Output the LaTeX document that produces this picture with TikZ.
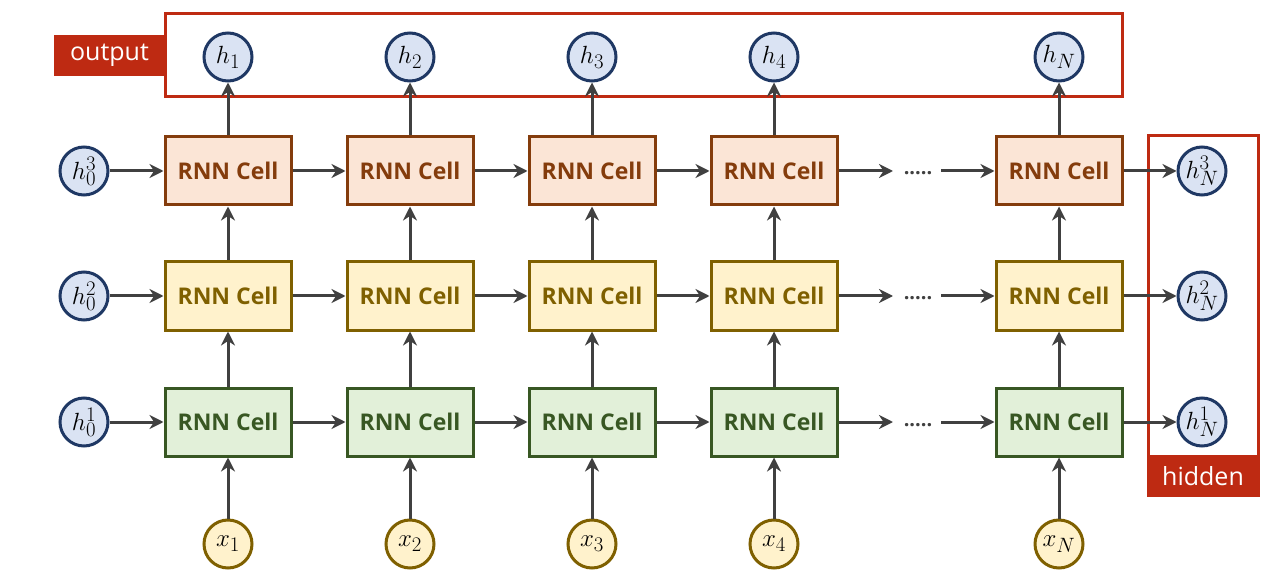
\documentclass[tikz,border=0pt]{standalone}
\usepackage{fontspec}
\newfontfamily\uifont{Open Sans}
\usetikzlibrary{arrows.meta}
\DeclareMathSizes{25}{25}{20}{16}
\definecolor{redc}{RGB}{190,42,18}
\definecolor{topfill}{HTML}{FBE5D6}\definecolor{topdraw}{HTML}{843C0C}
\definecolor{midfill}{HTML}{FFF2CC}\definecolor{middraw}{HTML}{7F6000}
\definecolor{botfill}{HTML}{E2F0D9}\definecolor{botdraw}{HTML}{385723}
\definecolor{hfill}{HTML}{DAE3F3}\definecolor{hdraw}{HTML}{1F3864}
\definecolor{arr}{HTML}{404040}
\begin{document}
\begin{tikzpicture}[x=1pt,y=-1pt,
  cell/.style={rectangle,minimum width=126pt,minimum height=68pt,line width=3pt,inner sep=0pt,
    font=\uifont\bfseries\fontsize{23}{26}\selectfont},
  topcell/.style={cell,fill=topfill,draw=topdraw,text=topdraw},
  midcell/.style={cell,fill=midfill,draw=middraw,text=middraw},
  botcell/.style={cell,fill=botfill,draw=botdraw,text=botdraw},
  mathfont/.style={font=\fontsize{25}{30}\selectfont},
  hnode/.style={circle,minimum size=48pt,inner sep=0pt,line width=3pt,fill=hfill,draw=hdraw,mathfont},
  xnode/.style={circle,minimum size=48pt,inner sep=0pt,line width=3pt,fill=midfill,draw=middraw,mathfont},
  conn/.style={draw=arr,line width=3pt,-{Stealth[length=14pt,width=14pt,inset=4.5pt]}},
  redbox/.style={draw=redc,line width=3pt},
  redlabel/.style={fill=redc,text=white,inner sep=0pt,font=\uifont\fontsize{25}{28}\selectfont},
  dotsnode/.style={text=arr,inner sep=0pt,font=\uifont\bfseries\fontsize{20}{24}\selectfont}
]
\useasboundingbox (0,0) rectangle (1286,588);
% red frames
\draw[redbox] (165,14) rectangle (1122,97);
\node[redlabel,minimum width=111pt,minimum height=41pt] (outl) at (109.5,55.5) {output};
\draw[redbox] (1148,136) rectangle (1258,456);
\node[redlabel,minimum width=113pt,minimum height=41pt] (hidl) at (1203,476.5) {hidden};

% cells
\foreach \c/\x in {1/228,2/410,3/592,4/774,5/1059}{
  \node[topcell] (t\c) at (\x,171) {RNN Cell};
  \node[midcell] (m\c) at (\x,296) {RNN Cell};
  \node[botcell] (b\c) at (\x,422) {RNN Cell};
}
% initial hidden
\node[hnode] (h03) at (84,171) {$h_0^3$};
\node[hnode] (h02) at (84,296) {$h_0^2$};
\node[hnode] (h01) at (84,422) {$h_0^1$};
% final hidden
\node[hnode] (hN3) at (1202,171) {$h_N^3$};
\node[hnode] (hN2) at (1202,296) {$h_N^2$};
\node[hnode] (hN1) at (1202,422) {$h_N^1$};
% outputs
\node[hnode] (o1) at (228,57) {$h_1$};
\node[hnode] (o2) at (410,57) {$h_2$};
\node[hnode] (o3) at (592,57) {$h_3$};
\node[hnode] (o4) at (774,57) {$h_4$};
\node[hnode] (o5) at (1059,57) {$h_N$};
% inputs
\node[xnode] (x1) at (228,544) {$x_1$};
\node[xnode] (x2) at (410,544) {$x_2$};
\node[xnode] (x3) at (592,544) {$x_3$};
\node[xnode] (x4) at (774,544) {$x_4$};
\node[xnode] (x5) at (1059,544) {$x_N$};

% horizontal connections
\foreach \r/\y in {t/171,m/296,b/422}{
  \draw[conn] (\r1) -- (\r2);
  \draw[conn] (\r2) -- (\r3);
  \draw[conn] (\r3) -- (\r4);
  \coordinate (\r ea) at (893,\y);
  \coordinate (\r eb) at (941,\y);
  \node[dotsnode,anchor=base] (\r dots) at (918,\y+4) {.....};
  \draw[conn] (\r4.east) -- (\r ea);
  \draw[conn] (\r eb) -- (\r5.west);
}
\draw[conn] (h03) -- (t1);
\draw[conn] (h02) -- (m1);
\draw[conn] (h01) -- (b1);
\draw[conn] (t5) -- (hN3);
\draw[conn] (m5) -- (hN2);
\draw[conn] (b5) -- (hN1);
% vertical connections
\foreach \c in {1,...,5}{
  \draw[conn] (x\c) -- (b\c);
  \draw[conn] (b\c) -- (m\c);
  \draw[conn] (m\c) -- (t\c);
  \draw[conn] (t\c) -- (o\c);
}
\end{tikzpicture}
\end{document}
